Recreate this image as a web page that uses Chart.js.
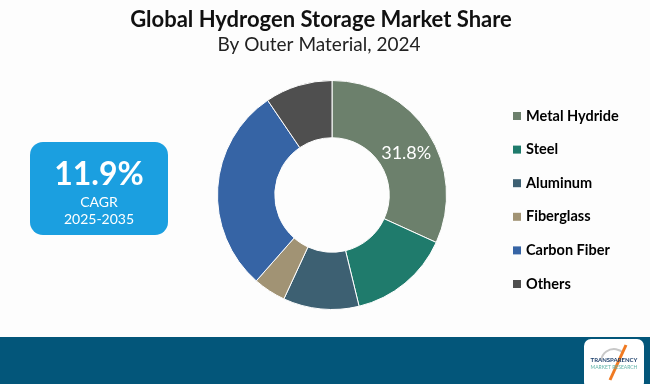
<!DOCTYPE html>
<html>
<head>
<meta charset="utf-8">
<script src="https://cdn.jsdelivr.net/npm/chart.js@4"></script>
<style>
  html, body { margin: 0; padding: 0; background: #fdfdfd; }
  #wrap { width: 650px; height: 384px; position: relative; }
</style>
</head>
<body>
<div id="wrap"><canvas id="myChart" width="650" height="384"></canvas></div>
<script>
const ctx = document.getElementById('myChart');

// data
const categories = ['Metal Hydride', 'Steel', 'Aluminum', 'Fiberglass', 'Carbon Fiber', 'Others'];
const shares = [31.8, 14.4, 10.7, 4.6, 29.0, 9.5];
const colors = ['#6c806c', '#1f7b6c', '#3d6072', '#a19374', '#3664a5', '#4f4f4f'];
const shownLabels = ['31.8%', '', '', '', '', ''];

const titleText = 'Global Hydrogen Storage Market Share';
const subtitleText = 'By Outer Material, 2024';
const cagrValue = '11.9%';
const cagrLabel = 'CAGR';
const cagrYears = '2025-2035';

function roundRect(c, x, y, w, h, r) {
    c.beginPath();
    c.moveTo(x + r, y);
    c.arcTo(x + w, y, x + w, y + h, r);
    c.arcTo(x + w, y + h, x, y + h, r);
    c.arcTo(x, y + h, x, y, r);
    c.arcTo(x, y, x + w, y, r);
    c.closePath();
}

const decor = {
    id: 'decor',
    beforeDraw(chart) {
        const c = chart.ctx;
        c.save();
        c.fillStyle = '#fdfdfd';
        c.fillRect(0, 0, chart.width, chart.height);

        // titles
        c.fillStyle = '#111';
        c.textAlign = 'center';
        c.textBaseline = 'middle';
        c.font = 'bold 22px Lato';
        c.fillText(titleText, 321, 20);
        c.fillStyle = '#222';
        c.font = '19px Lato';
        c.fillText(subtitleText, 319, 45);

        // CAGR box
        c.fillStyle = '#1b9fe0';
        roundRect(c, 30, 142, 138, 93, 13);
        c.fill();
        c.fillStyle = '#fff';
        c.font = 'bold 32px Lato';
        c.fillText(cagrValue, 99, 175);
        c.font = '14px Lato';
        c.fillText(cagrLabel, 99, 202);
        c.fillText(cagrYears, 99, 219);

        // bottom band
        c.fillStyle = '#03567a';
        c.fillRect(0, 337, chart.width, chart.height - 337);

        // logo
        c.fillStyle = '#fff';
        roundRect(c, 584, 339, 60, 50, 7);
        c.fill();
        c.strokeStyle = '#c8c8c8';
        c.lineWidth = 2;
        c.beginPath();
        c.arc(614, 362, 13, Math.PI * 1.05, Math.PI * 1.75);
        c.stroke();
        c.strokeStyle = '#f07a22';
        c.lineWidth = 3;
        c.beginPath();
        c.moveTo(610, 380);
        c.lineTo(626, 345);
        c.stroke();
        c.fillStyle = '#1d3f6b';
        c.font = 'bold 6px Lato';
        c.fillText('TRANSPARENCY', 614, 360);
        c.fillStyle = '#5fb3a8';
        c.font = '5px Lato';
        c.fillText('MARKET RESEARCH', 614, 367);
        c.restore();
    },
    afterDraw(chart) {
        const c = chart.ctx;
        const meta = chart.getDatasetMeta(0);
        c.save();

        // value labels on slices
        c.fillStyle = '#fff';
        c.font = '18px Lato';
        c.textAlign = 'center';
        c.textBaseline = 'middle';
        meta.data.forEach((arc, i) => {
            if (!shownLabels[i]) return;
            const p = arc.tooltipPosition();
            c.fillText(shownLabels[i], p.x + 2, p.y + 5);
        });

        // legend
        c.textAlign = 'left';
        c.font = 'bold 14.5px Lato';
        categories.forEach((name, i) => {
            const y = 116 + i * 33.6;
            c.fillStyle = colors[i];
            c.fillRect(513, y - 4, 8, 8);
            c.fillStyle = '#000';
            c.fillText(name, 526, y);
        });
        c.restore();
    }
};

new Chart(ctx, {
    type: 'doughnut',
    data: {
        labels: categories,
        datasets: [{
            data: shares,
            backgroundColor: colors,
            borderColor: '#ffffff',
            borderWidth: 1
        }]
    },
    options: {
        responsive: false,
        animation: false,
        cutout: '50%',
        layout: {
            padding: { left: 217, right: 203, top: 80, bottom: 74 }
        },
        plugins: {
            legend: { display: false },
            tooltip: { enabled: false }
        }
    },
    plugins: [decor]
});
</script>
</body>
</html>
